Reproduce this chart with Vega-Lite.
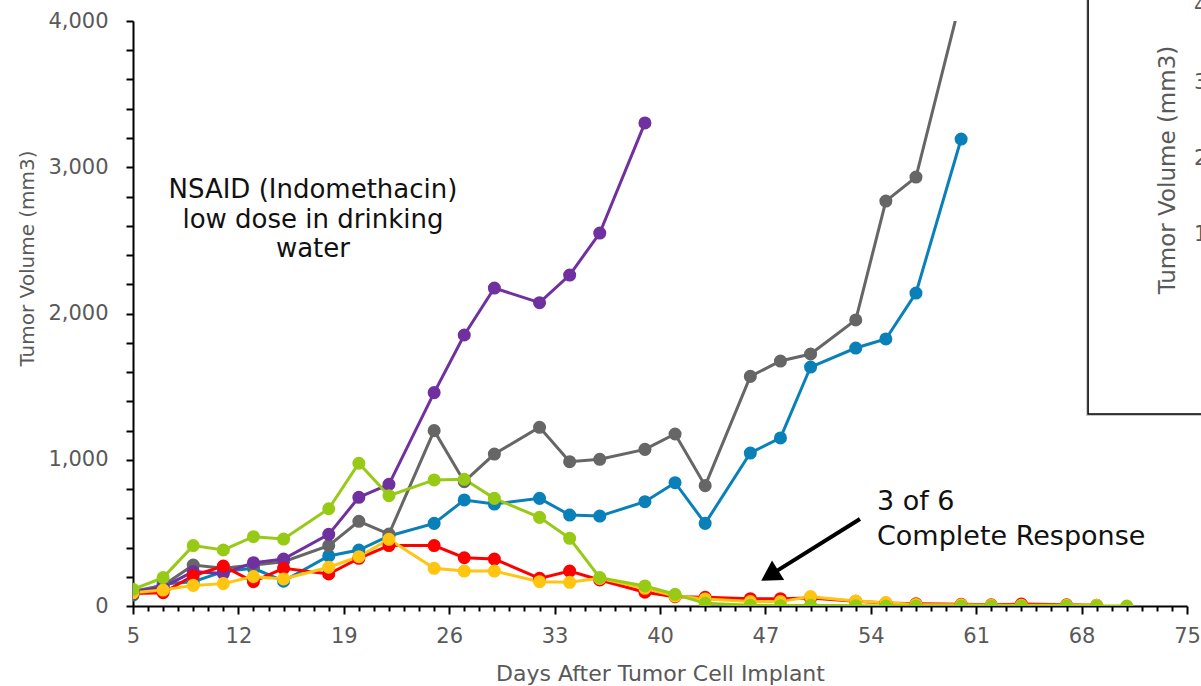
{
  "$schema": "https://vega.github.io/schema/vega-lite/v6.json",
  "width": 1054,
  "height": 585,
  "autosize": "none",
  "padding": {"left": 133, "top": 21, "right": 14, "bottom": 80},
  "background": "white",
  "config": {"view": {"stroke": null}, "font": "DejaVu Sans"},
  "datasets": {
    "tumor": [
      {"mouse": "M1", "day": 5, "v": 75}, {"mouse": "M1", "day": 7, "v": 150}, {"mouse": "M1", "day": 9, "v": 166}, {"mouse": "M1", "day": 11, "v": 235}, {"mouse": "M1", "day": 13, "v": 258}, {"mouse": "M1", "day": 15, "v": 170}, {"mouse": "M1", "day": 18, "v": 342}, {"mouse": "M1", "day": 20, "v": 383}, {"mouse": "M1", "day": 22, "v": 479}, {"mouse": "M1", "day": 25, "v": 565}, {"mouse": "M1", "day": 27, "v": 725}, {"mouse": "M1", "day": 29, "v": 697}, {"mouse": "M1", "day": 32, "v": 736}, {"mouse": "M1", "day": 34, "v": 622}, {"mouse": "M1", "day": 36, "v": 615}, {"mouse": "M1", "day": 39, "v": 713}, {"mouse": "M1", "day": 41, "v": 843}, {"mouse": "M1", "day": 43, "v": 565}, {"mouse": "M1", "day": 46, "v": 1046}, {"mouse": "M1", "day": 48, "v": 1149}, {"mouse": "M1", "day": 50, "v": 1634}, {"mouse": "M1", "day": 53, "v": 1764}, {"mouse": "M1", "day": 55, "v": 1826}, {"mouse": "M1", "day": 57, "v": 2140}, {"mouse": "M1", "day": 60, "v": 3193},
      {"mouse": "M2", "day": 5, "v": 100}, {"mouse": "M2", "day": 7, "v": 140}, {"mouse": "M2", "day": 9, "v": 280}, {"mouse": "M2", "day": 11, "v": 258}, {"mouse": "M2", "day": 13, "v": 280}, {"mouse": "M2", "day": 15, "v": 303}, {"mouse": "M2", "day": 18, "v": 413}, {"mouse": "M2", "day": 20, "v": 579}, {"mouse": "M2", "day": 22, "v": 492}, {"mouse": "M2", "day": 25, "v": 1199}, {"mouse": "M2", "day": 27, "v": 850}, {"mouse": "M2", "day": 29, "v": 1039}, {"mouse": "M2", "day": 32, "v": 1222}, {"mouse": "M2", "day": 34, "v": 987}, {"mouse": "M2", "day": 36, "v": 1003}, {"mouse": "M2", "day": 39, "v": 1071}, {"mouse": "M2", "day": 41, "v": 1176}, {"mouse": "M2", "day": 43, "v": 823}, {"mouse": "M2", "day": 46, "v": 1570}, {"mouse": "M2", "day": 48, "v": 1675}, {"mouse": "M2", "day": 50, "v": 1723}, {"mouse": "M2", "day": 53, "v": 1956}, {"mouse": "M2", "day": 55, "v": 2769}, {"mouse": "M2", "day": 57, "v": 2933}, {"mouse": "M2", "day": 60, "v": 4160},
      {"mouse": "M3", "day": 5, "v": 95}, {"mouse": "M3", "day": 7, "v": 130}, {"mouse": "M3", "day": 9, "v": 235}, {"mouse": "M3", "day": 11, "v": 223}, {"mouse": "M3", "day": 13, "v": 296}, {"mouse": "M3", "day": 15, "v": 321}, {"mouse": "M3", "day": 18, "v": 490}, {"mouse": "M3", "day": 20, "v": 743}, {"mouse": "M3", "day": 22, "v": 832}, {"mouse": "M3", "day": 25, "v": 1459}, {"mouse": "M3", "day": 27, "v": 1853}, {"mouse": "M3", "day": 29, "v": 2174}, {"mouse": "M3", "day": 32, "v": 2074}, {"mouse": "M3", "day": 34, "v": 2263}, {"mouse": "M3", "day": 36, "v": 2550}, {"mouse": "M3", "day": 39, "v": 3303},
      {"mouse": "M4", "day": 5, "v": 85}, {"mouse": "M4", "day": 7, "v": 91}, {"mouse": "M4", "day": 9, "v": 207}, {"mouse": "M4", "day": 11, "v": 273}, {"mouse": "M4", "day": 13, "v": 166}, {"mouse": "M4", "day": 15, "v": 258}, {"mouse": "M4", "day": 18, "v": 219}, {"mouse": "M4", "day": 20, "v": 326}, {"mouse": "M4", "day": 22, "v": 413}, {"mouse": "M4", "day": 25, "v": 413}, {"mouse": "M4", "day": 27, "v": 330}, {"mouse": "M4", "day": 29, "v": 321}, {"mouse": "M4", "day": 32, "v": 189}, {"mouse": "M4", "day": 34, "v": 239}, {"mouse": "M4", "day": 36, "v": 178}, {"mouse": "M4", "day": 39, "v": 94}, {"mouse": "M4", "day": 41, "v": 64}, {"mouse": "M4", "day": 43, "v": 59}, {"mouse": "M4", "day": 46, "v": 50}, {"mouse": "M4", "day": 48, "v": 50}, {"mouse": "M4", "day": 50, "v": 55}, {"mouse": "M4", "day": 53, "v": 32}, {"mouse": "M4", "day": 55, "v": 20}, {"mouse": "M4", "day": 57, "v": 15}, {"mouse": "M4", "day": 60, "v": 12}, {"mouse": "M4", "day": 62, "v": 8}, {"mouse": "M4", "day": 64, "v": 13}, {"mouse": "M4", "day": 67, "v": 8}, {"mouse": "M4", "day": 69, "v": 5},
      {"mouse": "M5", "day": 5, "v": 90}, {"mouse": "M5", "day": 7, "v": 109}, {"mouse": "M5", "day": 9, "v": 141}, {"mouse": "M5", "day": 11, "v": 153}, {"mouse": "M5", "day": 13, "v": 201}, {"mouse": "M5", "day": 15, "v": 185}, {"mouse": "M5", "day": 18, "v": 265}, {"mouse": "M5", "day": 20, "v": 337}, {"mouse": "M5", "day": 22, "v": 456}, {"mouse": "M5", "day": 25, "v": 258}, {"mouse": "M5", "day": 27, "v": 239}, {"mouse": "M5", "day": 29, "v": 239}, {"mouse": "M5", "day": 32, "v": 166}, {"mouse": "M5", "day": 34, "v": 162}, {"mouse": "M5", "day": 36, "v": 189}, {"mouse": "M5", "day": 39, "v": 121}, {"mouse": "M5", "day": 41, "v": 68}, {"mouse": "M5", "day": 43, "v": 48}, {"mouse": "M5", "day": 46, "v": 30}, {"mouse": "M5", "day": 48, "v": 30}, {"mouse": "M5", "day": 50, "v": 64}, {"mouse": "M5", "day": 53, "v": 34}, {"mouse": "M5", "day": 55, "v": 23}, {"mouse": "M5", "day": 57, "v": 10}, {"mouse": "M5", "day": 60, "v": 8}, {"mouse": "M5", "day": 62, "v": 5}, {"mouse": "M5", "day": 64, "v": 5}, {"mouse": "M5", "day": 67, "v": 5}, {"mouse": "M5", "day": 69, "v": 5},
      {"mouse": "M6", "day": 5, "v": 114}, {"mouse": "M6", "day": 7, "v": 194}, {"mouse": "M6", "day": 9, "v": 413}, {"mouse": "M6", "day": 11, "v": 383}, {"mouse": "M6", "day": 13, "v": 474}, {"mouse": "M6", "day": 15, "v": 458}, {"mouse": "M6", "day": 18, "v": 665}, {"mouse": "M6", "day": 20, "v": 976}, {"mouse": "M6", "day": 22, "v": 754}, {"mouse": "M6", "day": 25, "v": 862}, {"mouse": "M6", "day": 27, "v": 866}, {"mouse": "M6", "day": 29, "v": 736}, {"mouse": "M6", "day": 32, "v": 606}, {"mouse": "M6", "day": 34, "v": 463}, {"mouse": "M6", "day": 36, "v": 194}, {"mouse": "M6", "day": 39, "v": 137}, {"mouse": "M6", "day": 41, "v": 80}, {"mouse": "M6", "day": 43, "v": 18}, {"mouse": "M6", "day": 46, "v": 5}, {"mouse": "M6", "day": 48, "v": 2}, {"mouse": "M6", "day": 50, "v": 5}, {"mouse": "M6", "day": 53, "v": 2}, {"mouse": "M6", "day": 55, "v": 0}, {"mouse": "M6", "day": 57, "v": 0}, {"mouse": "M6", "day": 60, "v": 0}, {"mouse": "M6", "day": 62, "v": 0}, {"mouse": "M6", "day": 64, "v": 0}, {"mouse": "M6", "day": 67, "v": 0}, {"mouse": "M6", "day": 69, "v": 0}, {"mouse": "M6", "day": 71, "v": 0}
    ],
    "treatment_note": [
      {"day": 16.95, "v": 2790, "label": "NSAID (Indomethacin)"},
      {"day": 16.95, "v": 2588, "label": "low dose in drinking"},
      {"day": 16.95, "v": 2386, "label": "water"}
    ],
    "response_note": [
      {"day": 54.41, "v": 656, "label": "3 of 6"},
      {"day": 54.41, "v": 417, "label": "Complete Response"}
    ],
    "arrow_shaft": [{"day": 53.28, "v": 595, "day2": 47.6, "v2": 230}],
    "arrow_head": [{"day": 47.47, "v": 221}],
    "side_panel": [{"day": 68.43, "v": 1313, "day2": 80, "v2": 4700}],
    "side_panel_shadow": [{"day": 68.3, "v": 1299, "day2": 80, "v2": 4700}],
    "side_panel_title": [{"day": 73.74, "v": 2981, "label": "Tumor Volume (mm3)"}],
    "side_panel_ticks": [
      {"day": 75.47, "v": 4096, "label": "4,000"},
      {"day": 75.47, "v": 3576, "label": "3,000"},
      {"day": 75.47, "v": 3056, "label": "2,000"},
      {"day": 75.47, "v": 2537, "label": "1,000"}
    ]
  },
  "encoding": {
    "x": {
      "field": "day",
      "type": "quantitative",
      "scale": {"domain": [5, 75], "nice": false, "zero": false},
      "axis": {
        "values": [5,6,7,8,9,10,11,12,13,14,15,16,17,18,19,20,21,22,23,24,25,26,27,28,29,30,31,32,33,34,35,36,37,38,39,40,41,42,43,44,45,46,47,48,49,50,51,52,53,54,55,56,57,58,59,60,61,62,63,64,65,66,67,68,69,70,71,72,73,74,75],
        "labelExpr": "(datum.value - 5) % 7 == 0 ? datum.label : ''",
        "labelFlush": false,
        "labelOverlap": false,
        "grid": false,
        "domainColor": "#000000",
        "domainWidth": 2,
        "tickColor": "#000000",
        "tickWidth": 2,
        "tickSize": {"condition": {"test": "(datum.value - 5) % 7 == 0", "value": 8}, "value": 5},
        "labelPadding": 11,
        "labelFontSize": 21,
        "labelColor": "#595959",
        "labelFont": "DejaVu Sans",
        "title": "Days After Tumor Cell Implant",
        "titleFont": "DejaVu Sans",
        "titleFontSize": 22,
        "titleFontWeight": "normal",
        "titleColor": "#595959",
        "titleX": 527,
        "titleY": 67,
        "titleAlign": "center",
        "titleBaseline": "middle"
      }
    },
    "y": {
      "field": "v",
      "type": "quantitative",
      "scale": {"domain": [0, 4000], "nice": false},
      "axis": {
        "values": [0,200,400,600,800,1000,1200,1400,1600,1800,2000,2200,2400,2600,2800,3000,3200,3400,3600,3800,4000],
        "labelExpr": "datum.value % 1000 == 0 ? format(datum.value, ',') : ''",
        "labelFlush": false,
        "labelOverlap": false,
        "grid": false,
        "domainColor": "#000000",
        "domainWidth": 2,
        "tickColor": "#000000",
        "tickWidth": 2,
        "tickSize": 7,
        "labelPadding": 18,
        "labelFontSize": 21,
        "labelColor": "#595959",
        "labelFont": "DejaVu Sans",
        "title": "Tumor Volume (mm3)",
        "titleFont": "DejaVu Sans",
        "titleFontSize": 20,
        "titleFontWeight": "normal",
        "titleColor": "#595959",
        "titleAngle": 270,
        "titleX": -106,
        "titleY": 237,
        "titleAlign": "center",
        "titleBaseline": "middle"
      }
    }
  },
  "layer": [
    {
      "data": {"name": "side_panel_shadow"},
      "mark": {"type": "rect", "fill": "#c8c8c8"},
      "encoding": {"x2": {"field": "day2"}, "y2": {"field": "v2"}}
    },
    {
      "data": {"name": "side_panel"},
      "mark": {"type": "rect", "fill": "#ffffff", "stroke": "#000000", "strokeWidth": 1.5},
      "encoding": {"x2": {"field": "day2"}, "y2": {"field": "v2"}}
    },
    {
      "data": {"name": "side_panel_title"},
      "mark": {"type": "text", "angle": 270, "align": "center", "baseline": "middle", "fontSize": 23, "color": "#595959", "font": "DejaVu Sans"},
      "encoding": {"text": {"field": "label"}}
    },
    {
      "data": {"name": "side_panel_ticks"},
      "mark": {"type": "text", "align": "left", "baseline": "middle", "fontSize": 21, "color": "#595959", "font": "DejaVu Sans"},
      "encoding": {"text": {"field": "label"}}
    },
    {
      "data": {"name": "tumor"},
      "mark": {"type": "line", "strokeWidth": 3, "clip": true},
      "encoding": {
        "color": {
          "field": "mouse",
          "type": "nominal",
          "scale": {"domain": ["M1", "M2", "M3", "M4", "M5", "M6"], "range": ["#0A80B8", "#666666", "#7030A0", "#FF0000", "#FFC511", "#97CA15"]},
          "legend": null
        }
      }
    },
    {
      "data": {"name": "tumor"},
      "mark": {"type": "point", "shape": "circle", "filled": true, "opacity": 1, "size": 170, "clip": true},
      "encoding": {
        "color": {"field": "mouse", "type": "nominal", "legend": null}
      }
    },
    {
      "data": {"name": "treatment_note"},
      "mark": {"type": "text", "align": "center", "baseline": "alphabetic", "fontSize": 26, "color": "#111111", "font": "DejaVu Sans"},
      "encoding": {"text": {"field": "label"}}
    },
    {
      "data": {"name": "response_note"},
      "mark": {"type": "text", "align": "left", "baseline": "alphabetic", "fontSize": 27, "color": "#111111", "font": "DejaVu Sans"},
      "encoding": {"text": {"field": "label"}}
    },
    {
      "data": {"name": "arrow_shaft"},
      "mark": {"type": "rule", "strokeWidth": 4, "color": "#000000"},
      "encoding": {"x2": {"field": "day2"}, "y2": {"field": "v2"}}
    },
    {
      "data": {"name": "arrow_head"},
      "mark": {"type": "point", "shape": "triangle", "angle": 238, "size": 530, "filled": true, "color": "#000000", "opacity": 1},
      "encoding": {}
    }
  ]
}
